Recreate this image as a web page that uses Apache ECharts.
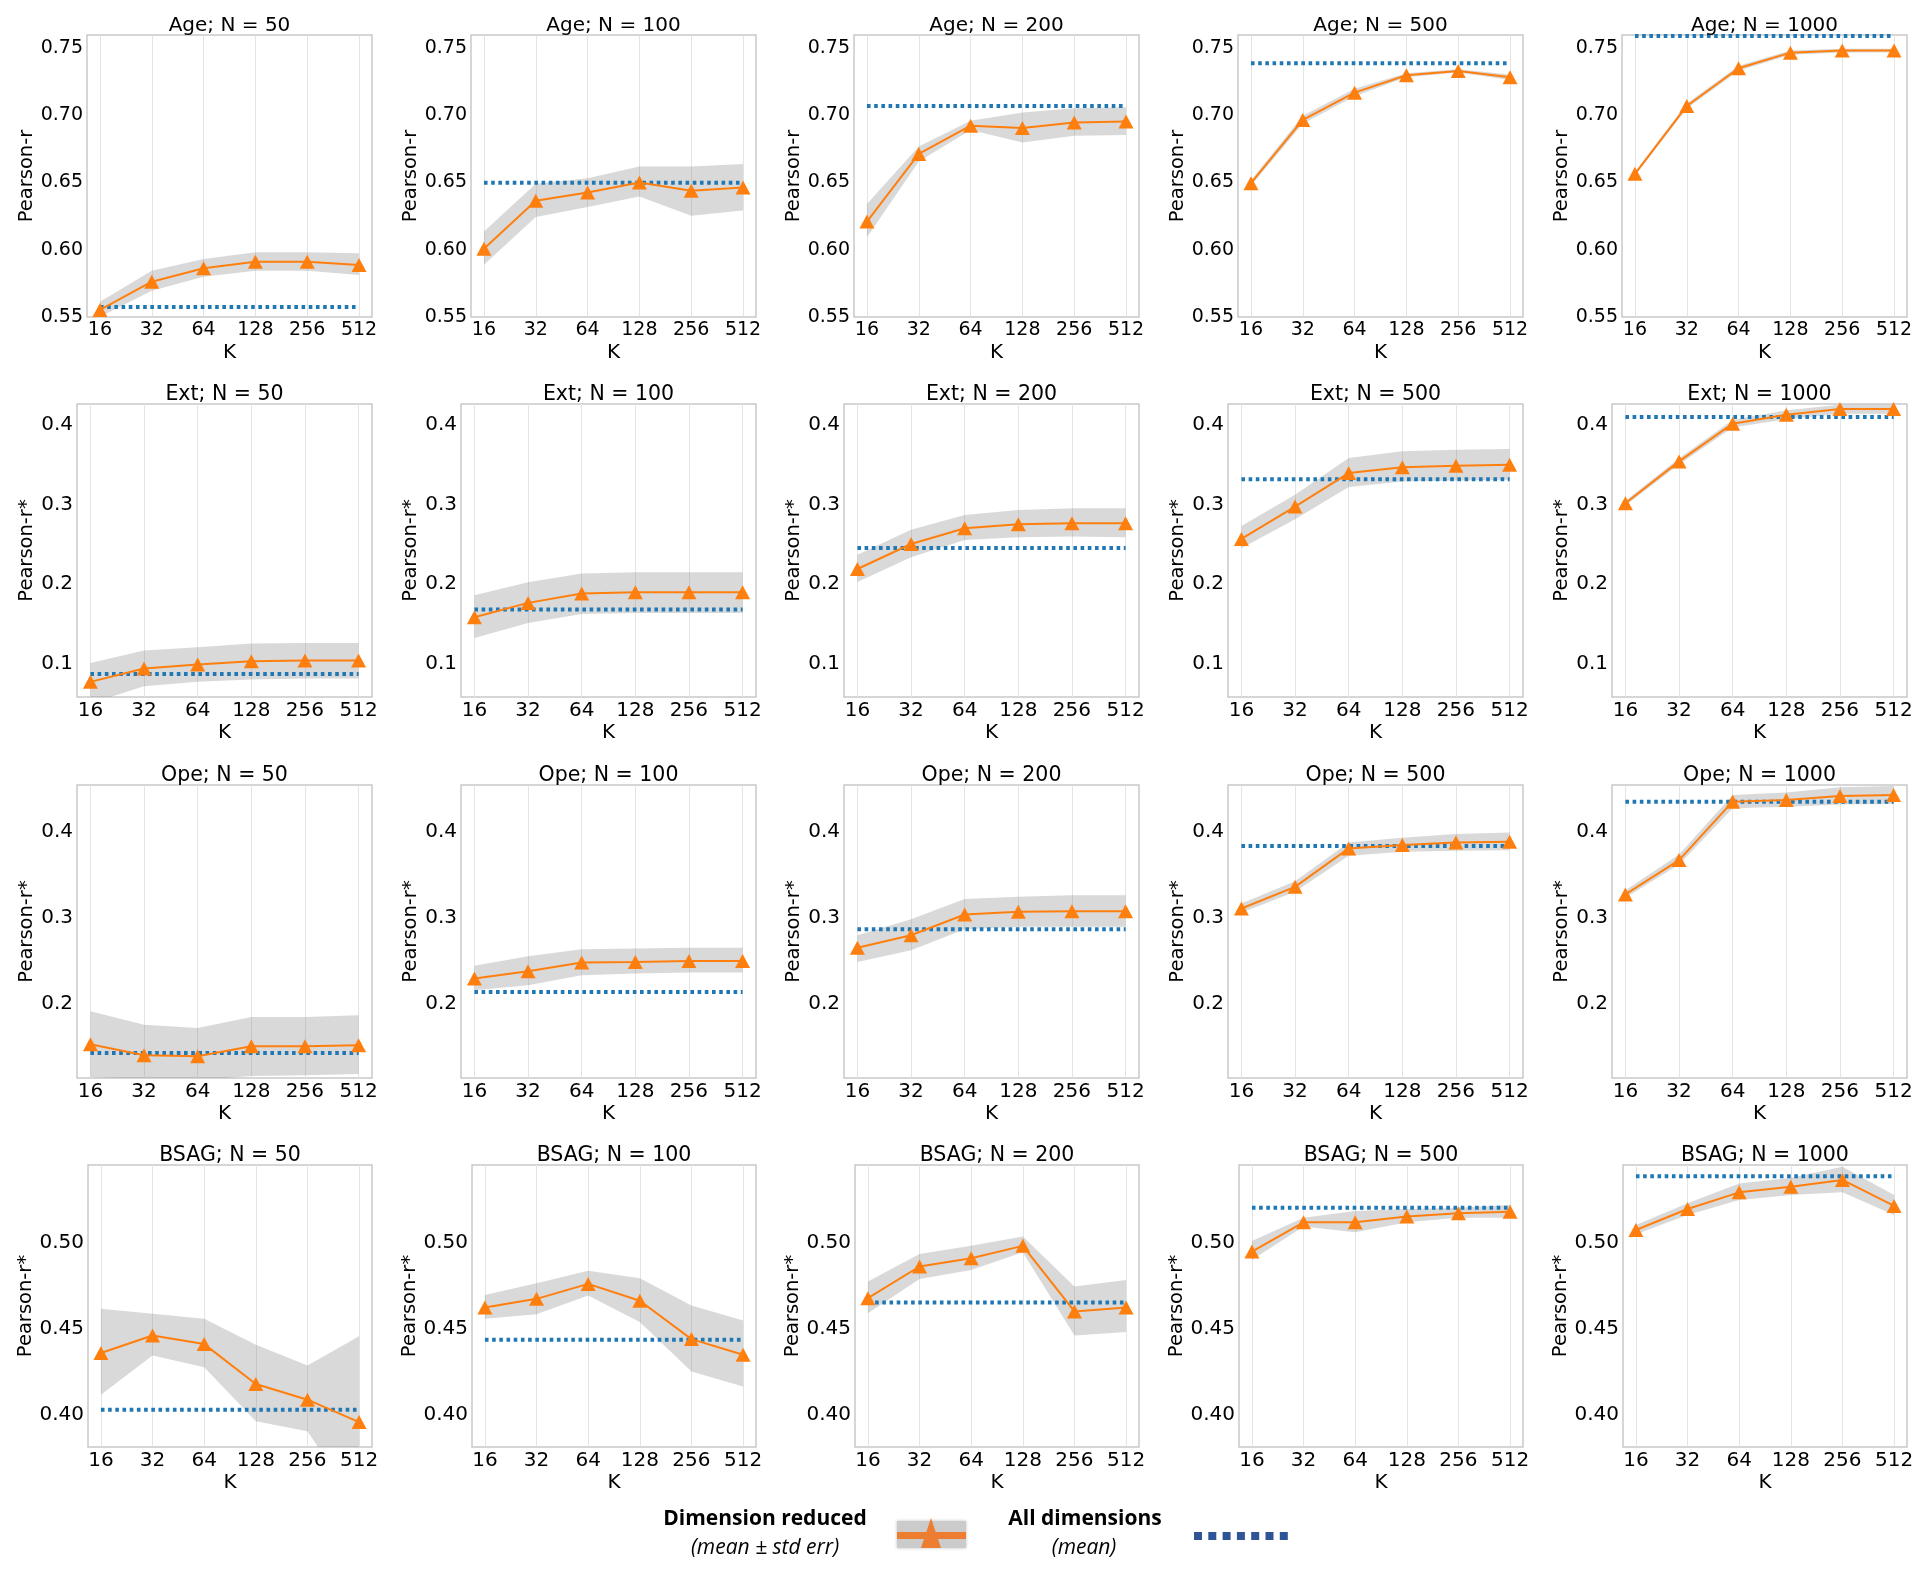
<!DOCTYPE html>
<html><head><meta charset="utf-8">
<script src="https://cdn.jsdelivr.net/npm/echarts@6/dist/echarts.min.js"></script>
<style>html,body{margin:0;padding:0;background:#fff}#c{width:1920px;height:1569px}</style>
</head><body><div id="c"></div>
<script>
// ---------------- DATA ----------------
const K = [16, 32, 64, 128, 256, 512];
const N_LIST = [50, 100, 200, 500, 1000];
const TARGETS = ['Age', 'Ext', 'Ope', 'BSAG'];
const Y_NAMES = ['Pearson-r', 'Pearson-r*', 'Pearson-r*', 'Pearson-r*'];
const ageTicks = [0.55, 0.60, 0.65, 0.70, 0.75];
const extTicks = [0.1, 0.2, 0.3, 0.4];
const opeTicks = [0.2, 0.3, 0.4];
const bsagTicks = [0.40, 0.45, 0.50];
const K_TICKS = [16, 32, 64, 128, 256, 512];

// rows = N (50,100,200,500,1000), columns = K
const ageMean = [
  [0.5552, 0.5762, 0.5862, 0.5911, 0.5911, 0.5886],
  [0.6007, 0.6363, 0.6424, 0.6499, 0.6437, 0.6462],
  [0.6209, 0.6711, 0.6921, 0.6904, 0.6944, 0.6951],
  [0.6494, 0.6963, 0.7166, 0.7295, 0.7327, 0.7280],
  [0.6563, 0.7067, 0.7347, 0.7463, 0.7478, 0.7478]];
const ageUpper = [
  [0.5614, 0.5844, 0.5931, 0.5981, 0.5981, 0.5973],
  [0.6135, 0.6489, 0.6531, 0.6617, 0.6617, 0.6637],
  [0.6340, 0.6766, 0.6958, 0.7018, 0.7050, 0.7057],
  [0.6515, 0.6995, 0.7195, 0.7310, 0.7340, 0.7300],
  [0.6578, 0.7085, 0.7365, 0.7478, 0.7492, 0.7492]];
const ageLower = [
  [0.5502, 0.5695, 0.5799, 0.5844, 0.5844, 0.5812],
  [0.5888, 0.6242, 0.6316, 0.6395, 0.6251, 0.6291],
  [0.6093, 0.6654, 0.6889, 0.6795, 0.6845, 0.6852],
  [0.6475, 0.6935, 0.7140, 0.7280, 0.7315, 0.7260],
  [0.6548, 0.7049, 0.7329, 0.7448, 0.7464, 0.7464]];
const ageAll = [0.5574, 0.6496, 0.7067, 0.7384, 0.7586];

const extMean = [
  [0.0770, 0.0937, 0.0987, 0.1029, 0.1038, 0.1038],
  [0.1582, 0.1762, 0.1879, 0.1895, 0.1895, 0.1895],
  [0.2188, 0.2502, 0.2700, 0.2750, 0.2762, 0.2762],
  [0.2565, 0.2972, 0.3392, 0.3467, 0.3484, 0.3497],
  [0.3014, 0.3539, 0.4013, 0.4126, 0.4198, 0.4198]];
const extUpper = [
  [0.1008, 0.1163, 0.1205, 0.1251, 0.1259, 0.1259],
  [0.1858, 0.2021, 0.2130, 0.2146, 0.2146, 0.2146],
  [0.2368, 0.2682, 0.2867, 0.2930, 0.2951, 0.2951],
  [0.2729, 0.3119, 0.3581, 0.3665, 0.3686, 0.3694],
  [0.3045, 0.3580, 0.4060, 0.4180, 0.4252, 0.4252]];
const extLower = [
  [0.0500, 0.0715, 0.0770, 0.0799, 0.0812, 0.0812],
  [0.1322, 0.1510, 0.1623, 0.1636, 0.1636, 0.1636],
  [0.2025, 0.2335, 0.2553, 0.2586, 0.2595, 0.2586],
  [0.2448, 0.2813, 0.3216, 0.3287, 0.3300, 0.3308],
  [0.2985, 0.3500, 0.3965, 0.4070, 0.4139, 0.4139]];
const extAll = [0.0870, 0.1678, 0.2450, 0.3316, 0.4097];

const opeMean = [
  [0.1526, 0.1398, 0.1386, 0.1503, 0.1503, 0.1515],
  [0.2291, 0.2377, 0.2478, 0.2485, 0.2497, 0.2497],
  [0.2649, 0.2796, 0.3037, 0.3068, 0.3076, 0.3076],
  [0.3107, 0.3359, 0.3806, 0.3845, 0.3876, 0.3883],
  [0.3270, 0.3670, 0.4350, 0.4369, 0.4416, 0.4427]];
const opeUpper = [
  [0.1911, 0.1755, 0.1717, 0.1845, 0.1845, 0.1864],
  [0.2439, 0.2551, 0.2633, 0.2641, 0.2649, 0.2649],
  [0.2796, 0.2983, 0.3216, 0.3243, 0.3262, 0.3262],
  [0.3165, 0.3425, 0.3876, 0.3930, 0.3973, 0.3992],
  [0.3320, 0.3736, 0.4427, 0.4458, 0.4517, 0.4532]];
const opeLower = [
  [0.1146, 0.1120, 0.1110, 0.1157, 0.1165, 0.1181],
  [0.2155, 0.2214, 0.2330, 0.2350, 0.2361, 0.2361],
  [0.2485, 0.2621, 0.2866, 0.2893, 0.2893, 0.2893],
  [0.3056, 0.3301, 0.3720, 0.3767, 0.3779, 0.3786],
  [0.3231, 0.3619, 0.4272, 0.4291, 0.4318, 0.4322]];
const opeAll = [0.1425, 0.2136, 0.2866, 0.3833, 0.4350];

const bsagMean = [
  [0.4358, 0.4460, 0.4410, 0.4178, 0.4087, 0.3957],
  [0.4623, 0.4673, 0.4760, 0.4662, 0.4439, 0.4348],
  [0.4677, 0.4861, 0.4909, 0.4981, 0.4600, 0.4623],
  [0.4948, 0.5118, 0.5118, 0.5151, 0.5170, 0.5180],
  [0.5073, 0.5195, 0.5292, 0.5325, 0.5364, 0.5213]];
const bsagUpper = [
  [0.4615, 0.4586, 0.4557, 0.4406, 0.4286, 0.4455],
  [0.4696, 0.4764, 0.4836, 0.4793, 0.4634, 0.4547],
  [0.4774, 0.4934, 0.4981, 0.5035, 0.4745, 0.4783],
  [0.5010, 0.5145, 0.5184, 0.5195, 0.5203, 0.5219],
  [0.5102, 0.5228, 0.5344, 0.5377, 0.5441, 0.5277]];
const bsagLower = [
  [0.4116, 0.4344, 0.4275, 0.3961, 0.3903, 0.3459],
  [0.4557, 0.4584, 0.4692, 0.4538, 0.4251, 0.4164],
  [0.4590, 0.4789, 0.4841, 0.4944, 0.4460, 0.4480],
  [0.4899, 0.5093, 0.5060, 0.5118, 0.5145, 0.5145],
  [0.5048, 0.5160, 0.5248, 0.5277, 0.5292, 0.5160]];
const bsagAll = [0.4029, 0.4435, 0.4652, 0.5203, 0.5386];

// ---------------- LAYOUT / STYLE ----------------
const ROWS = [
  {mean: ageMean, up: ageUpper, lo: ageLower, all: ageAll, ticks: ageTicks, dec: 2, range: [0.55, 0.7594]},
  {mean: extMean, up: extUpper, lo: extLower, all: extAll, ticks: extTicks, dec: 1, range: [0.058, 0.426]},
  {mean: opeMean, up: opeUpper, lo: opeLower, all: opeAll, ticks: opeTicks, dec: 1, range: [0.1134, 0.4544]},
  {mean: bsagMean, up: bsagUpper, lo: bsagLower, all: bsagAll, ticks: bsagTicks, dec: 2, range: [0.3812, 0.5451]}
];
const ROW_TOP = [35, 404, 785, 1165];
const ROW_H = [282, 293, 293, 282];
const ROW_W = [285, 295, 295, 284];
const COL_RIGHT = [372, 756, 1139, 1523, 1907];
const TICK_FS = [19, 20, 20, 20];
const TITLE_FS = [20, 20.5, 20.5, 20.5];
const NAME_GAP = [47, 36, 36, 47];
const FONT = 'DejaVu Sans';

const lg = v => Math.log2(v);
const grids = [], xAxes = [], yAxes = [], series = [], titles = [];

function bandRender(params, api) {
  if (params.dataIndex !== 0) return null;
  const n = params.dataInsideLength;
  const pts = [];
  for (let j = 0; j < n; j++) pts.push(api.coord([api.value(0, j), api.value(2, j)]));
  for (let j = n - 1; j >= 0; j--) pts.push(api.coord([api.value(0, j), api.value(1, j)]));
  const cs = params.coordSys;
  return {type: 'polygon', shape: {points: pts}, style: {fill: 'rgba(128,128,128,0.3)'},
    clipPath: {type: 'rect', shape: {x: cs.x, y: cs.y, width: cs.width, height: cs.height}}};
}

ROWS.forEach((row, r) => {
  N_LIST.forEach((n, c) => {
    const gi = r * 5 + c;
    const left = COL_RIGHT[c] - ROW_W[r];
    grids.push({left: left, top: ROW_TOP[r], width: ROW_W[r], height: ROW_H[r],
      show: true, borderColor: '#c9c9c9', borderWidth: 1.5, backgroundColor: 'transparent', containLabel: false});
    xAxes.push({type: 'value', gridIndex: gi, min: 3.75, max: 9.25,
      name: 'K', nameLocation: 'middle', nameGap: 26,
      nameTextStyle: {fontFamily: FONT, fontSize: 20, color: '#000'},
      axisLine: {show: false}, axisTick: {show: false, customValues: K_TICKS.map(lg)},
      axisLabel: {customValues: K_TICKS.map(lg), margin: 4, fontFamily: FONT, fontSize: TICK_FS[r], color: '#000',
        formatter: v => String(Math.round(Math.pow(2, v)))},
      splitLine: {show: true, lineStyle: {color: '#e4e4e4', width: 1}}});
    yAxes.push({type: 'value', gridIndex: gi, min: row.range[0], max: row.range[1],
      name: Y_NAMES[r], nameLocation: 'middle', nameGap: NAME_GAP[r],
      nameTextStyle: {fontFamily: FONT, fontSize: 19.5, color: '#000'},
      axisLine: {show: false}, axisTick: {show: false, customValues: row.ticks},
      axisLabel: {customValues: row.ticks, margin: 4, fontFamily: FONT, fontSize: TICK_FS[r], color: '#000',
        formatter: v => v.toFixed(row.dec)},
      splitLine: {show: false}});
    titles.push({text: TARGETS[r] + '; N = ' + n, left: left + ROW_W[r] / 2, top: ROW_TOP[r] - 19,
      textAlign: 'center', padding: 0,
      textStyle: {fontFamily: FONT, fontSize: TITLE_FS[r], fontWeight: 'normal', color: '#000', lineHeight: 20}});
    series.push({type: 'custom', xAxisIndex: gi, yAxisIndex: gi, silent: true, z: 1,
      encode: {x: 0, y: [1, 2]}, renderItem: bandRender,
      data: K.map((k, j) => [lg(k), row.lo[c][j], row.up[c][j]])});
    series.push({type: 'line', xAxisIndex: gi, yAxisIndex: gi, symbol: 'none', silent: true, z: 3,
      lineStyle: {color: '#1f77b4', width: 4, type: [3.6, 3.6], cap: 'butt'},
      data: [[lg(K[0]), row.all[c]], [lg(K[K.length - 1]), row.all[c]]]});
    series.push({type: 'line', xAxisIndex: gi, yAxisIndex: gi, symbol: 'triangle', symbolSize: [15, 14], z: 4,
      itemStyle: {color: '#ff7f0e'}, lineStyle: {color: '#ff7f0e', width: 2},
      data: K.map((k, j) => [lg(k), row.mean[c][j]])});
  });
});

const LFONT = '"Open Sans"';
const graphic = [
  {type: 'text', x: 765, y: 1519, style: {text: 'Dimension reduced', fill: '#000', font: 'bold 21px ' + LFONT, align: 'center', verticalAlign: 'middle'}},
  {type: 'text', x: 765, y: 1548, style: {text: '(mean \u00b1 std err)', fill: '#000', font: 'italic 21px ' + LFONT, align: 'center', verticalAlign: 'middle'}},
  {type: 'rect', shape: {x: 897, y: 1521, width: 69, height: 27}, style: {fill: '#cbcbcb', shadowBlur: 3, shadowColor: 'rgba(150,150,150,0.6)'}},
  {type: 'rect', shape: {x: 897, y: 1532, width: 69, height: 7}, style: {fill: '#ed7d31'}},
  {type: 'polygon', shape: {points: [[931, 1518], [921, 1548], [941, 1548]]}, style: {fill: '#ed7d31'}},
  {type: 'text', x: 1085, y: 1519, style: {text: 'All dimensions', fill: '#000', font: 'bold 21px ' + LFONT, align: 'center', verticalAlign: 'middle'}},
  {type: 'text', x: 1084, y: 1548, style: {text: '(mean)', fill: '#000', font: 'italic 21px ' + LFONT, align: 'center', verticalAlign: 'middle'}},
  {type: 'line', shape: {x1: 1194, y1: 1536, x2: 1290, y2: 1536}, style: {stroke: '#2f5597', lineWidth: 8, lineDash: [8, 6.3]}}
];

const chart = echarts.init(document.getElementById('c'), null, {renderer: 'canvas'});
chart.setOption({animation: false, backgroundColor: '#fff', title: titles, grid: grids,
  xAxis: xAxes, yAxis: yAxes, series: series, graphic: graphic});
</script></body></html>
